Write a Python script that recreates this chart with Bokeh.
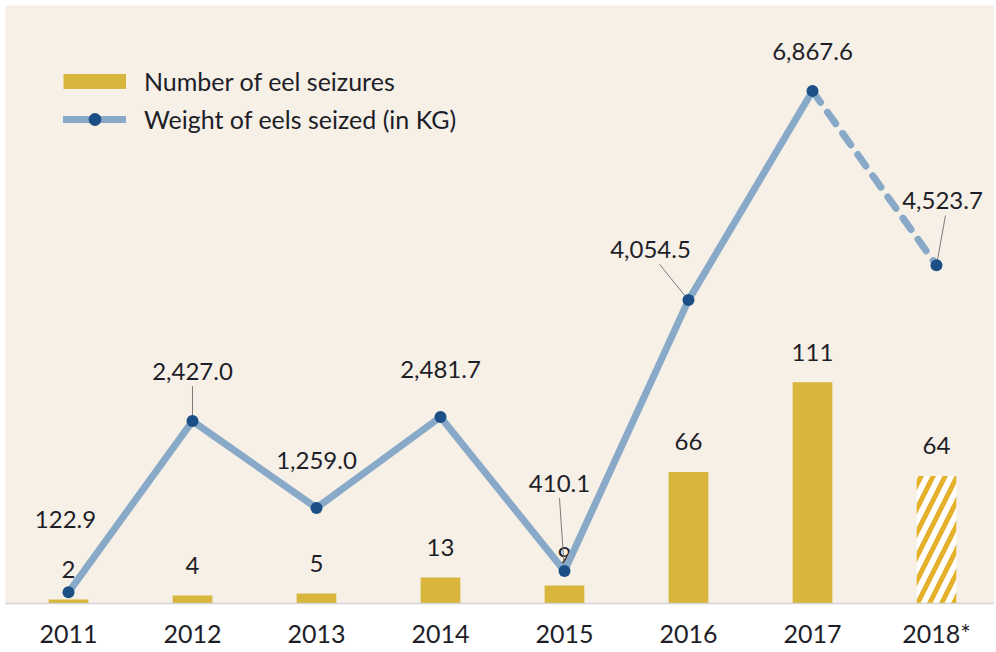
from bokeh.plotting import figure
from bokeh.models import Range1d, FixedTicker, Legend, LegendItem
from bokeh.core.properties import value
from bokeh.embed import file_html
from bokeh.resources import INLINE

# ---- data ----
years = ["2011", "2012", "2013", "2014", "2015", "2016", "2017", "2018*"]
seizures = [2, 4, 5, 13, 9, 66, 111, 64]
weights = [122.9, 2427.0, 1259.0, 2481.7, 410.1, 4054.5, 6867.6, 4523.7]
weight_labels = ["122.9", "2,427.0", "1,259.0", "2,481.7", "410.1", "4,054.5", "6,867.6", "4,523.7"]
seizure_labels = [str(v) for v in seizures]

# ---- label placement (pixels, relative to the point) ----
lab_dx = [-3, 0, 0, 0, -5, -38, 0, 6]
lab_dy = [-73, -50, -47, -48, -88, -51, -40, -65]
has_leader = [False, True, False, False, True, True, False, True]
lead_dx = [0, 0, 0, 0, 0, 9, 0, 3]

# ---- styles ----
BG = "#f6f0e7"
GOLD = "#d8b53c"
LINE = "#88aac8"
DOT = "#1c4f86"
TXT = "#1e1e28"
FONT = "Lato"

W, H = 994, 650
LEFT, TOP, BOTTOM = 5, 5, 45
X0 = -0.508
fw = W - LEFT
X1 = X0 + fw / 124.0
fh = H - TOP - BOTTOM
YB0, YB1 = 0, fh / 2.0
YW0 = -27
YW1 = YW0 + fh / 0.07458

ppx = fw / (X1 - X0)
ppw = fh / (YW1 - YW0)

xs = list(range(len(years)))

p = figure(width=W, height=H, output_backend="svg", toolbar_location=None,
           x_range=Range1d(X0, X1), y_range=Range1d(YB0, YB1),
           y_axis_location=None, min_border_left=LEFT, min_border_right=0,
           min_border_top=TOP, min_border_bottom=BOTTOM)
p.extra_y_ranges = {"w": Range1d(YW0, YW1)}
p.background_fill_color = BG
p.border_fill_color = "white"
p.outline_line_color = None
p.grid.visible = False

ax = p.xaxis[0]
ax.ticker = FixedTicker(ticks=xs)
ax.major_label_overrides = {i: y for i, y in enumerate(years)}
ax.major_tick_line_color = None
ax.minor_tick_line_color = None
ax.axis_line_color = "#d4d4d4"
ax.axis_line_width = 1.5
ax.major_label_text_font = FONT
ax.major_label_text_font_size = "25px"
ax.major_label_text_color = TXT
ax.major_label_standoff = 8

# bars
bars = p.vbar(x=xs[:-1], top=seizures[:-1], width=0.32, fill_color=GOLD, line_color=None)
p.vbar(x=[xs[-1]], top=[seizures[-1]], width=0.32, fill_color="white", line_color=None,
       hatch_pattern="/", hatch_color="#e5b12a", hatch_weight=5, hatch_scale=24)

p.text(x=xs, y=seizures, text=seizure_labels, text_align="center", text_baseline="middle",
       y_offset=-30, text_font=value(FONT), text_font_size="24px", text_color=TXT)

# leader lines (computed from pixel offsets)
lx0, ly0, lx1, ly1 = [], [], [], []
for i in range(len(xs)):
    if has_leader[i]:
        lx0.append(xs[i] + (lab_dx[i] + lead_dx[i]) / ppx)
        ly0.append(weights[i] - (lab_dy[i] + 15) / ppw)
        lx1.append(xs[i])
        ly1.append(weights[i])
p.segment(x0=lx0, y0=ly0, x1=lx1, y1=ly1, line_color="#7a7a7a", line_width=1, y_range_name="w")

# weight line
line = p.line(x=xs[:-1], y=weights[:-1], line_color=LINE, line_width=7, line_join="round",
              line_cap="round", y_range_name="w")
p.line(x=xs[-2:], y=weights[-2:], line_color=LINE, line_width=7, line_dash="14 12",
       line_cap="round", y_range_name="w")
dots = p.scatter(x=xs, y=weights, size=12, fill_color=DOT, line_color=None, y_range_name="w")

p.text(x=xs, y=weights, text=weight_labels, x_offset=lab_dx, y_offset=lab_dy,
       text_align="center", text_baseline="middle", text_font=value(FONT),
       text_font_size="24px", text_color=TXT, y_range_name="w")

# legend proxy for the bar swatch (a thick butt-capped line gives a 15px-tall bar)
nan = float("nan")
bar_swatch = p.line(x=[nan, nan], y=[nan, nan], line_color=GOLD, line_width=15, line_cap="butt")

legend = Legend(items=[LegendItem(label="Number of eel seizures", renderers=[bar_swatch]),
                       LegendItem(label="Weight of eels seized (in KG)", renderers=[line, dots])],
                location="top_left")
legend.background_fill_alpha = 0
legend.border_line_color = None
legend.margin = 58
legend.padding = 0
legend.glyph_width = 63
legend.glyph_height = 32
legend.label_height = 36
legend.spacing = 2
legend.label_standoff = 18
legend.label_text_font = FONT
legend.label_text_font_size = "25px"
legend.label_text_color = TXT
p.add_layout(legend)

open("out.html", "w").write(file_html(p, INLINE))
